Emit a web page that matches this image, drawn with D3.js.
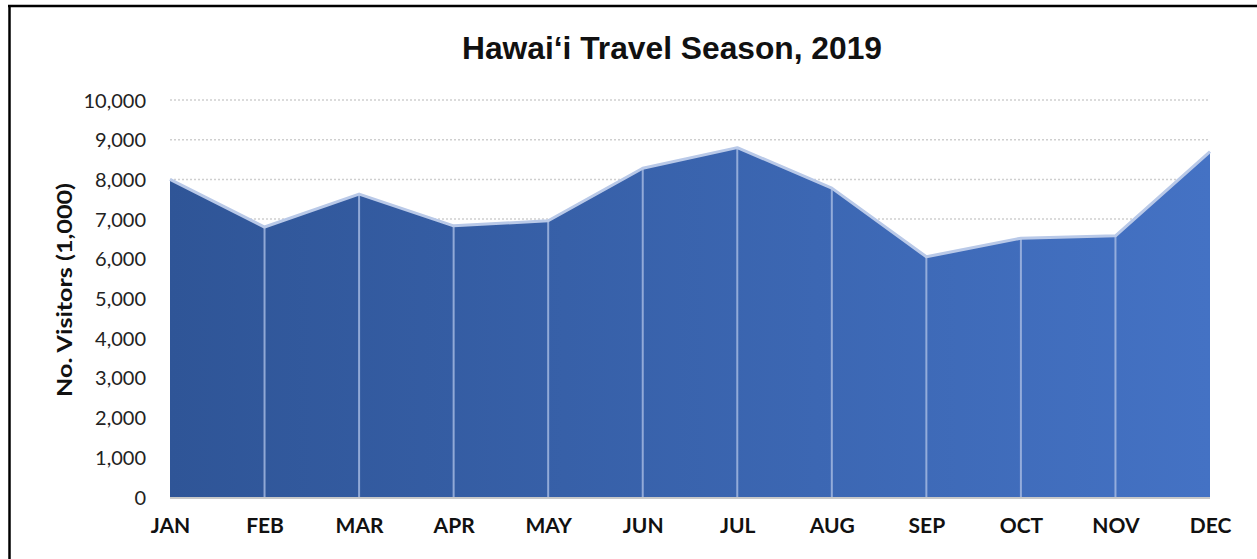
<!DOCTYPE html>
<html>
<head>
<meta charset="utf-8">
<script src="https://cdn.jsdelivr.net/npm/d3@7"></script>
<style>
  html, body { margin: 0; padding: 0; background: #fff; }
  svg { display: block; }
</style>
</head>
<body>
<svg id="chart" width="1257" height="559"></svg>
<script>
// Monthly visitor counts (thousands), Hawai'i 2019
const months = ["JAN", "FEB", "MAR", "APR", "MAY", "JUN", "JUL", "AUG", "SEP", "OCT", "NOV", "DEC"];
const visitors = [8000, 6800, 7630, 6830, 6960, 8280, 8800, 7780, 6050, 6520, 6580, 8700];
const yTicks = [0, 1000, 2000, 3000, 4000, 5000, 6000, 7000, 8000, 9000, 10000];
const title = "Hawai\u2018i Travel Season, 2019";
const yTitle = "No. Visitors (1,000)";

const data = months.map((m, i) => ({ month: m, value: visitors[i] }));

const svg = d3.select("#chart");
const W = 1257, H = 559;

const plot = { left: 170, right: 1210, top: 100, bottom: 497 };

const x = d3.scalePoint().domain(months).range([plot.left, plot.right]);
const y = d3.scaleLinear().domain([0, 10000]).range([plot.bottom, plot.top]);

// Frame
svg.append("rect").attr("width", W).attr("height", H).attr("fill", "#fff");
svg.append("line").attr("x1", 8).attr("x2", W).attr("y1", 6).attr("y2", 6)
  .attr("stroke", "#000").attr("stroke-width", 2.5);
svg.append("line").attr("x1", 9.5).attr("x2", 9.5).attr("y1", 5).attr("y2", H)
  .attr("stroke", "#000").attr("stroke-width", 2.5);

// Title
svg.append("text").attr("x", 672).attr("y", 59).attr("text-anchor", "middle")
  .attr("font-family", "Liberation Sans, Arial, sans-serif").attr("font-weight", "bold")
  .attr("font-size", 31).attr("fill", "#111")
  .attr("textLength", 420).attr("lengthAdjust", "spacingAndGlyphs")
  .text(title);

// Gridlines
svg.append("g").selectAll("line").data(yTicks.filter(d => d > 0)).join("line")
  .attr("x1", plot.left).attr("x2", plot.right)
  .attr("y1", d => y(d)).attr("y2", d => y(d))
  .attr("stroke", "#cfcfcf").attr("stroke-width", 1.5).attr("stroke-dasharray", "2,2");

// Fill gradient
const defs = svg.append("defs");
const grad = defs.append("linearGradient").attr("id", "areaGrad")
  .attr("gradientUnits", "userSpaceOnUse")
  .attr("x1", plot.left).attr("x2", plot.right).attr("y1", 0).attr("y2", 0);
grad.append("stop").attr("offset", "0%").attr("stop-color", "#2f5597");
grad.append("stop").attr("offset", "100%").attr("stop-color", "#4472c4");

const area = d3.area().x(d => x(d.month)).y0(y(0)).y1(d => y(d.value));
svg.append("path").datum(data).attr("d", area).attr("fill", "url(#areaGrad)");

// Drop lines at each month
svg.append("g").selectAll("line").data(data.slice(1, -1)).join("line")
  .attr("x1", d => x(d.month)).attr("x2", d => x(d.month))
  .attr("y1", d => y(d.value)).attr("y2", y(0))
  .attr("stroke", "#a9bde3").attr("stroke-opacity", 0.8).attr("stroke-width", 2);

// Top outline
const line = d3.line().x(d => x(d.month)).y(d => y(d.value));
svg.append("path").datum(data).attr("d", line).attr("fill", "none")
  .attr("stroke", "#b9c9e8").attr("stroke-width", 3).attr("stroke-linejoin", "round");

// Baseline
svg.append("line").attr("x1", plot.left).attr("x2", plot.right)
  .attr("y1", y(0) + 1).attr("y2", y(0) + 1)
  .attr("stroke", "#c8c8c8").attr("stroke-width", 2);

// Y axis labels
const yAxis = d3.axisLeft(y).tickValues(yTicks).tickSize(0).tickPadding(0)
  .tickFormat(d3.format(","));
const gy = svg.append("g").attr("transform", `translate(146,0)`).call(yAxis);
gy.select(".domain").remove();
gy.selectAll("text").attr("font-family", "Lato, sans-serif").attr("font-size", 20)
  .attr("fill", "#222").attr("dy", "0.35em");

// X axis labels
const xAxis = d3.axisBottom(x).tickSize(0).tickPadding(0);
const gx = svg.append("g").attr("transform", `translate(0,518)`).call(xAxis);
gx.select(".domain").remove();
gx.selectAll("text").attr("font-family", "Lato, sans-serif").attr("font-weight", "bold")
  .attr("font-size", 21).attr("fill", "#111").attr("dy", "0.71em");

// Y axis title
svg.append("text").attr("transform", "translate(72,290) rotate(-90)")
  .attr("text-anchor", "middle").attr("font-family", "Lato, sans-serif")
  .attr("font-weight", "bold").attr("font-size", 21).attr("fill", "#111")
  .attr("textLength", 214).attr("lengthAdjust", "spacingAndGlyphs")
  .text(yTitle);
</script>
</body>
</html>
